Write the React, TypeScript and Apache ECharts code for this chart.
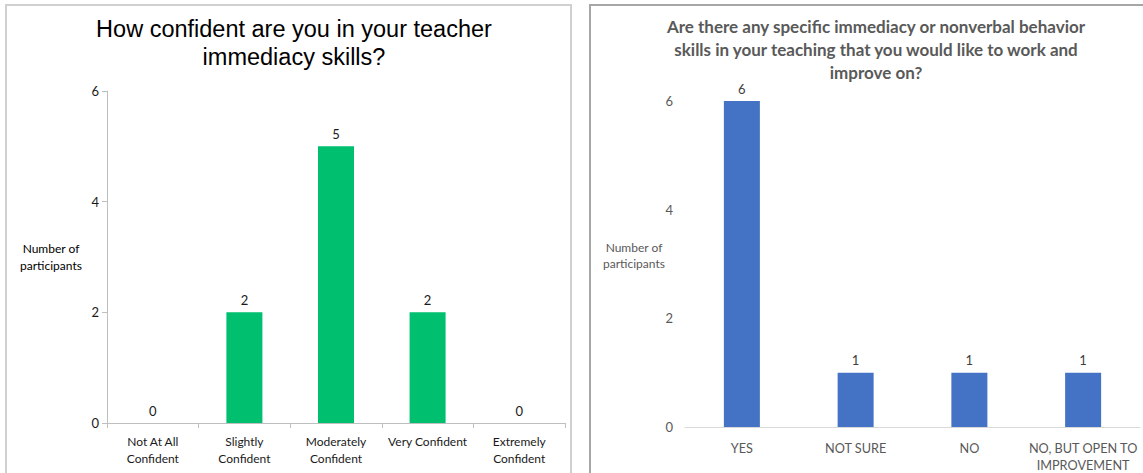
import React, { useEffect, useRef } from "react";
import * as echarts from "echarts";

const leftTitle = "How confident are you in your teacher\nimmediacy skills?";
const leftCategories = [
  "Not At All\nConfident",
  "Slightly\nConfident",
  "Moderately\nConfident",
  "Very Confident",
  "Extremely\nConfident",
];
const leftValues = [0, 2, 5, 2, 0];

const rightTitle =
  "Are there any specific immediacy or nonverbal behavior\nskills in your teaching that you would like to work and\nimprove on?";
const rightCategories = ["YES", "NOT SURE", "NO", "NO, BUT OPEN TO\nIMPROVEMENT"];
const rightValues = [6, 1, 1, 1];

const yAxisName = "Number of\nparticipants";
const yTicks = { min: 0, max: 6, interval: 2 };

export default function App() {
  const ref = useRef<HTMLDivElement>(null);

  useEffect(() => {
    if (!ref.current) return;
    const chart = echarts.init(ref.current, null, { renderer: "svg" });
    const font = "Lato, 'Noto Sans', sans-serif";
    chart.setOption({
      animation: false,
      backgroundColor: "#ffffff",
      title: [
        {
          text: leftTitle,
          left: 289,
          top: 10,
          textAlign: "center",
          textStyle: {
            fontFamily: "'Liberation Sans', Arial, sans-serif",
            fontSize: 23.5,
            fontWeight: "normal",
            color: "#000000",
            lineHeight: 28,
          },
        },
        {
          text: rightTitle,
          left: 871,
          top: 10,
          textAlign: "center",
          textStyle: {
            fontFamily: font,
            fontSize: 17,
            fontWeight: "bold",
            color: "#595959",
            lineHeight: 23,
          },
        },
      ],
      graphic: [
        {
          type: "rect",
          shape: { x: 6, y: 5, width: 565, height: 500 },
          style: { fill: "none", stroke: "#d0d0d0", lineWidth: 2 },
          silent: true,
        },
        {
          type: "rect",
          shape: { x: 590, y: 5, width: 600, height: 500 },
          style: { fill: "none", stroke: "#a6a6a6", lineWidth: 2 },
          silent: true,
        },
        {
          type: "text",
          x: 51,
          y: 257,
          style: {
            text: yAxisName,
            fontFamily: font,
            fontSize: 12,
            fill: "#000000",
            align: "center",
            verticalAlign: "middle",
            lineHeight: 17,
          },
        },
        {
          type: "text",
          x: 634,
          y: 255,
          style: {
            text: yAxisName,
            fontFamily: font,
            fontSize: 12,
            fill: "#595959",
            align: "center",
            verticalAlign: "middle",
            lineHeight: 16,
          },
        },
      ],
      grid: [
        { left: 107, right: 578, top: 91, bottom: 50 },
        { left: 685, right: 3, top: 101, bottom: 45 },
      ],
      xAxis: [
        {
          type: "category",
          gridIndex: 0,
          data: leftCategories,
          boundaryGap: true,
          axisLine: { lineStyle: { color: "#bfbfbf", width: 1 } },
          axisTick: { show: true, length: 5, lineStyle: { color: "#bfbfbf" } },
          axisLabel: {
            fontFamily: font,
            fontSize: 12,
            color: "#1a1a1a",
            margin: 10,
            lineHeight: 17,
            interval: 0,
          },
        },
        {
          type: "category",
          gridIndex: 1,
          data: rightCategories,
          boundaryGap: true,
          axisLine: { lineStyle: { color: "#d9d9d9", width: 1 } },
          axisTick: { show: false },
          axisLabel: {
            fontFamily: font,
            fontSize: 12.7,
            color: "#595959",
            margin: 12,
            lineHeight: 17,
            interval: 0,
          },
        },
      ],
      yAxis: [
        {
          type: "value",
          gridIndex: 0,
          min: yTicks.min,
          max: yTicks.max,
          interval: yTicks.interval,
          axisLine: { show: true, lineStyle: { color: "#bfbfbf", width: 1 } },
          axisTick: { show: true, length: 5, lineStyle: { color: "#bfbfbf" } },
          splitLine: { show: false },
          axisLabel: {
            fontFamily: font,
            fontSize: 13,
            color: "#1a1a1a",
            margin: 8,
          },
        },
        {
          type: "value",
          gridIndex: 1,
          min: yTicks.min,
          max: yTicks.max,
          interval: yTicks.interval,
          axisLine: { show: false },
          axisTick: { show: false },
          splitLine: { show: false },
          axisLabel: {
            fontFamily: font,
            fontSize: 13,
            color: "#595959",
            margin: 12,
          },
        },
      ],
      series: [
        {
          type: "bar",
          xAxisIndex: 0,
          yAxisIndex: 0,
          data: leftValues,
          barWidth: 36,
          itemStyle: { color: "#00BF6F" },
          label: {
            show: true,
            position: "top",
            distance: 6,
            fontFamily: font,
            fontSize: 13,
            color: "#1a1a1a",
          },
        },
        {
          type: "bar",
          xAxisIndex: 1,
          yAxisIndex: 1,
          data: rightValues,
          barWidth: 36,
          itemStyle: { color: "#4472C4" },
          label: {
            show: true,
            position: "top",
            distance: 6,
            fontFamily: font,
            fontSize: 13,
            color: "#404040",
          },
        },
      ],
    });
    return () => chart.dispose();
  }, []);

  return (
    <div
      ref={ref}
      style={{ position: "fixed", left: 0, top: 0, width: 1143, height: 473 }}
    />
  );
}
